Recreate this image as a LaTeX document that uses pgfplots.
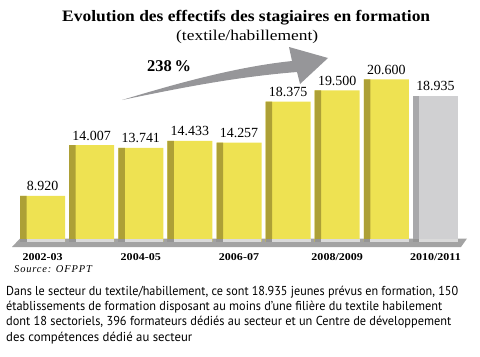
\documentclass[border=0pt]{standalone}
\usepackage{fontspec}
\setmainfont{Liberation Serif}
\newfontfamily\bodysans{PT Sans}
\usepackage{pgfplots}
\pgfplotsset{compat=1.18}
\usepackage{pgfplotstable}

\definecolor{cYellow}{RGB}{238,226,82}
\definecolor{cYdark}{RGB}{173,160,54}
\definecolor{cGray}{RGB}{208,208,210}
\definecolor{cGdark}{RGB}{168,168,171}
\definecolor{cSlab}{RGB}{163,163,163}
\definecolor{cSlabLight}{RGB}{218,218,218}
\definecolor{cSlabDark}{RGB}{150,150,150}
\definecolor{cArrow}{RGB}{150,150,153}

\pgfplotstableread{
x y label
0 8.920 8.920
1 14.007 14.007
2 13.741 13.741
3 14.433 14.433
4 14.257 14.257
5 18.375 18.375
6 19.500 19.500
7 20.600 20.600
}\yellowdata
\pgfplotstableread{
x y label
8 18.935 18.935
}\graydata

\newcommand\fitw[2]{\resizebox{#1}{\height}{#2}}

\begin{document}
\begin{tikzpicture}
\useasboundingbox (0,0) rectangle (480bp,-357bp);
% base slab
\fill[cSlab] (12bp,-247bp) -- (20bp,-238.5bp) -- (467bp,-238.5bp) -- (461bp,-247bp) -- cycle;
\begin{axis}[
  at={(18bp,-241.5bp)}, anchor=south west,
  scale only axis, width=442bp, height=241.5bp,
  xmin=-0.5, xmax=8.5, ymin=4.365, ymax=28.54,
  axis line style={draw=none}, tick style={draw=none},
  xtick=\empty, ytick=\empty,
  every node near coord/.append style={anchor=base, yshift=5bp, inner sep=0pt,
     font=\fontsize{14}{16}\selectfont},
]
\addplot[ybar, bar width=45bp, bar shift=0pt, fill=cYellow, draw=none,
  nodes near coords, point meta=explicit symbolic]
  table[x=x, y=y, meta=label]{\yellowdata};
\addplot[ybar, bar width=6.5bp, bar shift=-19.25bp, fill=cYdark, draw=none]
  table[x=x, y=y]{\yellowdata};
\addplot[ybar, bar width=45bp, bar shift=0pt, fill=cGray, draw=none,
  nodes near coords, point meta=explicit symbolic]
  table[x=x, y=y, meta=label]{\graydata};
\addplot[ybar, bar width=6.5bp, bar shift=-19.25bp, fill=cGdark, draw=none]
  table[x=x, y=y]{\graydata};
\end{axis}
% light strips at bar feet
\foreach \i in {0,...,8}{
  \pgfmathsetmacro\c{42.55+49.111*\i}
  \fill[cSlabLight] ({(\c-16)*1bp},-238.5bp) rectangle ({(\c+22.5)*1bp},-241.5bp);
  \fill[cSlabDark] ({(\c-22.5)*1bp},-238.5bp) rectangle ({(\c-16)*1bp},-241.5bp);
}
% x labels
\begin{scope}[every node/.style={anchor=base, inner sep=0pt,
   font=\fontsize{10.5}{12}\selectfont\bfseries\addfontfeatures{FakeStretch=1.15}}]
\node at (42.55bp,-260bp) {2002-03};
\node at (140.77bp,-260bp) {2004-05};
\node at (238.99bp,-260bp) {2006-07};
\node at (337.2bp,-260bp) {2008/2009};
\node at (435.4bp,-260bp) {2010/2011};
\end{scope}
% arrow
\fill[cArrow] (122bp,-100bp) .. controls (175bp,-84bp) and (235bp,-67bp) .. (292bp,-61bp)
  -- (289bp,-47bp) -- (328bp,-58bp) -- (300bp,-84bp) -- (297bp,-72bp)
  .. controls (235bp,-77bp) and (180bp,-88bp) .. (122bp,-100bp) -- cycle;
\node[anchor=base west, inner sep=0pt, font=\fontsize{16.5}{18}\selectfont\bfseries]
  at (147bp,-71.5bp) {238\,\%};
% titles
\node[anchor=base west, inner sep=0pt, font=\fontsize{16}{18}\selectfont\bfseries]
  at (62bp,-21.5bp) {\fitw{368bp}{Evolution des effectifs des stagiaires en formation}};
\node[anchor=base west, inner sep=0pt, font=\fontsize{15}{17}\selectfont]
  at (176bp,-40bp) {\fitw{142bp}{(textile/habillement)}};
\node[anchor=base west, inner sep=0pt, font=\fontsize{10.5}{12}\selectfont\itshape\addfontfeatures{LetterSpace=8}]
  at (14bp,-272bp) {Source: OFPPT};
% body text
\begin{scope}[every node/.style={anchor=base west, inner sep=0pt,
   font=\bodysans\fontsize{13}{15}\selectfont}]
\node at (6bp,-295bp) {\fitw{452bp}{Dans le secteur du textile/habillement, ce sont 18.935 jeunes prévus en formation, 150}};
\node at (6bp,-310.3bp) {\fitw{436bp}{établissements de formation disposant au moins d’une filière du textile habilement}};
\node at (6bp,-325.6bp) {\fitw{445bp}{dont 18 sectoriels, 396 formateurs dédiés au secteur et un Centre de développement}};
\node at (6bp,-341bp) {\fitw{186bp}{des compétences dédié au secteur}};
\end{scope}
\end{tikzpicture}
\end{document}
